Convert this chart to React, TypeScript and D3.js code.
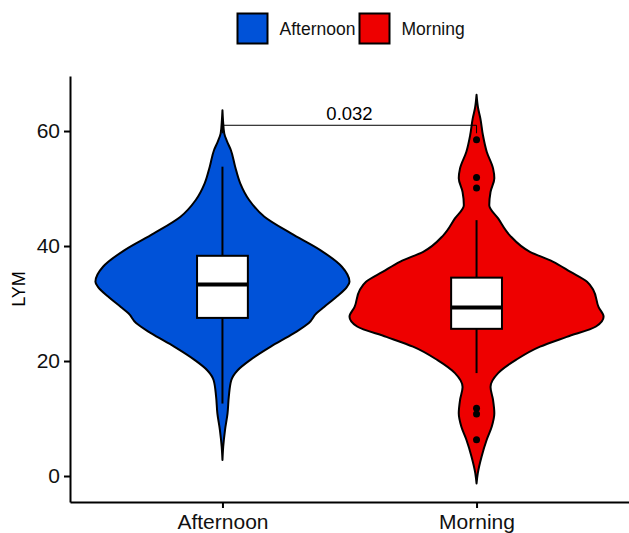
import React from 'react'
import * as d3 from 'd3'

const categories = ['Afternoon', 'Morning']
const colors = ['#0052D8', '#EE0000']
const yTicks = [0, 20, 40, 60]

// violin outlines: LYM value and relative width (1 = widest)
const afternoonValues = [63.6, 62.0, 59.6, 58.2, 56.7, 53.8, 50.9, 48.0, 45.1, 42.2, 39.3, 36.4, 33.8, 32.9, 31.2, 29.4, 28.3, 26.6, 24.8, 22.5, 20.2, 18.4, 16.7, 13.8, 10.9, 8.0, 5.1, 2.8]
const afternoonDensity = [0, 0.004, 0.014, 0.036, 0.066, 0.10, 0.14, 0.21, 0.33, 0.54, 0.77, 0.94, 1.0, 0.98, 0.90, 0.80, 0.74, 0.68, 0.56, 0.38, 0.22, 0.12, 0.07, 0.05, 0.04, 0.02, 0.006, 0]
const morningValues = [66.3, 64.0, 62.2, 59.3, 56.4, 53.5, 51.8, 49.4, 47.1, 44.8, 41.9, 39.0, 37.3, 35.5, 33.8, 32.3, 29.4, 27.7, 26.0, 24.2, 22.5, 20.2, 17.9, 15.5, 13.2, 10.9, 8.6, 6.3, 3.4, 0.5, -1.3]
const morningDensity = [0, 0.012, 0.03, 0.05, 0.08, 0.13, 0.14, 0.11, 0.10, 0.17, 0.26, 0.42, 0.60, 0.74, 0.87, 0.92, 0.96, 1.0, 0.94, 0.71, 0.50, 0.31, 0.17, 0.11, 0.13, 0.14, 0.12, 0.08, 0.04, 0.01, 0]

// lower whisker, Q1, median, Q3, upper whisker
const afternoonBox = [12.6, 27.5, 33.3, 38.3, 53.8]
const morningBox = [17.9, 25.6, 29.3, 34.5, 44.5]
const afternoonOutliers: number[] = []
const morningOutliers = [58.5, 51.9, 50.1, 11.8, 10.8, 6.3]

const pLabel = '0.032'
const bracketValue = 61.0

const font = '"Liberation Sans", Arial, sans-serif'

class App extends React.Component {
    myRef: React.RefObject<HTMLDivElement>
    constructor(props: any) {
        super(props)
        this.myRef = React.createRef()
    }

    componentDidMount() {
        const width = 629
        const height = 533
        const margin = {top: 76, right: 0, bottom: 31, left: 70}

        const x = d3.scalePoint()
            .domain(categories)
            .range([margin.left, width - margin.right])
            .padding(0.6)

        const y = d3.scaleLinear()
            .domain([-4.52, 69.57])
            .range([height - margin.bottom, margin.top])

        const w = d3.scaleLinear().domain([0, 1]).range([0, x.step() * 0.5])
        const boxHalf = x.step() * 0.1

        const groups = [
            {name: 'Afternoon', values: afternoonValues, density: afternoonDensity, box: afternoonBox, outliers: afternoonOutliers},
            {name: 'Morning', values: morningValues, density: morningDensity, box: morningBox, outliers: morningOutliers},
        ]

        const svg = d3.select(this.myRef.current)
            .append('svg')
            .attr('width', width)
            .attr('height', height)
            .style('position', 'absolute')
            .style('left', 0)
            .style('top', 0)
            .style('font-family', font)

        groups.forEach((g, i) => {
            const cx = x(g.name) as number
            const area = d3.area<[number, number]>()
                .curve(d3.curveMonotoneY)
                .y(d => y(d[0]))
                .x0(d => cx - w(d[1]))
                .x1(d => cx + w(d[1]))

            svg.append('path')
                .datum(d3.zip(g.values, g.density) as [number, number][])
                .attr('fill', colors[i])
                .attr('stroke', 'black')
                .attr('stroke-width', 2)
                .attr('stroke-linejoin', 'round')
                .attr('d', area)

            const [lo, q1, med, q3, hi] = g.box
            svg.append('line')
                .attr('x1', cx).attr('x2', cx)
                .attr('y1', y(hi)).attr('y2', y(q3))
                .attr('stroke', 'black').attr('stroke-width', 2)
            svg.append('line')
                .attr('x1', cx).attr('x2', cx)
                .attr('y1', y(q1)).attr('y2', y(lo))
                .attr('stroke', 'black').attr('stroke-width', 2)
            svg.append('rect')
                .attr('x', cx - boxHalf)
                .attr('y', y(q3))
                .attr('width', boxHalf * 2)
                .attr('height', y(q1) - y(q3))
                .attr('fill', 'white')
                .attr('stroke', 'black')
                .attr('stroke-width', 2)
            svg.append('line')
                .attr('x1', cx - boxHalf).attr('x2', cx + boxHalf)
                .attr('y1', y(med)).attr('y2', y(med))
                .attr('stroke', 'black').attr('stroke-width', 4)

            svg.selectAll(null)
                .data(g.outliers)
                .enter()
                .append('circle')
                .attr('cx', cx)
                .attr('cy', d => y(d))
                .attr('r', 3.5)
                .attr('fill', 'black')
        })

        // significance bracket
        const xa = x(categories[0]) as number
        const xb = x(categories[1]) as number
        const by = y(bracketValue)
        svg.append('path')
            .attr('d', `M${xa},${by + 8}V${by}H${xb}V${by + 8}`)
            .attr('fill', 'none')
            .attr('stroke', 'black')
            .attr('stroke-width', 1)
        svg.append('text')
            .attr('x', (xa + xb) / 2)
            .attr('y', by - 5)
            .attr('text-anchor', 'middle')
            .attr('font-size', 18.5)
            .text(pLabel)

        // axes
        const yAxis = (g: any) => g
            .attr('transform', `translate(${margin.left},0)`)
            .call(d3.axisLeft(y).tickValues(yTicks).tickSize(6).tickSizeOuter(0).tickPadding(4))
            .call((g: any) => g.selectAll('path, line').attr('stroke', 'black').attr('stroke-width', 2))
            .call((g: any) => g.selectAll('text').attr('font-size', 21).attr('fill', '#111').attr('font-family', font))

        const xAxis = (g: any) => g
            .attr('transform', `translate(0,${height - margin.bottom})`)
            .call(d3.axisBottom(x).tickSize(6).tickSizeOuter(0).tickPadding(6))
            .call((g: any) => g.selectAll('path, line').attr('stroke', 'black').attr('stroke-width', 2))
            .call((g: any) => g.selectAll('text').attr('font-size', 21).attr('fill', '#111').attr('font-family', font))

        svg.append('g').call(yAxis)
        svg.append('g').call(xAxis)

        svg.append('text')
            .attr('transform', `translate(25,${(y.range()[0] + y.range()[1]) / 2}) rotate(-90)`)
            .attr('text-anchor', 'middle')
            .attr('font-size', 18)
            .text('LYM')

        // legend
        const legendX = [237.5, 359.5]
        categories.forEach((c, i) => {
            svg.append('rect')
                .attr('x', legendX[i])
                .attr('y', 13.5)
                .attr('width', 30)
                .attr('height', 30)
                .attr('fill', colors[i])
                .attr('stroke', 'black')
                .attr('stroke-width', 2)
            svg.append('text')
                .attr('x', legendX[i] + 42)
                .attr('y', 34.5)
                .attr('font-size', 17.5)
                .attr('fill', '#111')
                .text(c)
        })
    }

    render() {
        return <div ref={this.myRef}></div>
    }
}

export default App
